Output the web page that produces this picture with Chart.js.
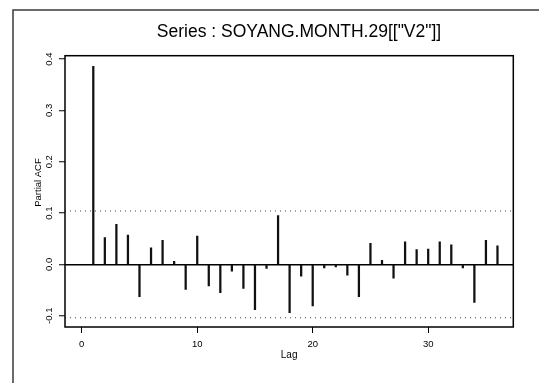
<!DOCTYPE html>
<html>
<head>
<meta charset="utf-8">
<script src="https://cdn.jsdelivr.net/npm/chart.js@4.4.1/dist/chart.umd.min.js"></script>
<style>
  html, body { margin: 0; padding: 0; background: #fff; }
  canvas { display: block; }
</style>
</head>
<body>
<canvas id="pacfChart" width="539" height="383"></canvas>
<script>
// textos
const chartTitle = 'Series : SOYANG.MONTH.29[["V2"]]';
const yTitle = 'Partial ACF';
const xTitle = 'Lag';

// datos
const lags = [1, 2, 3, 4, 5, 6, 7, 8, 9, 10, 11, 12, 13, 14, 15, 16, 17, 18,
              19, 20, 21, 22, 23, 24, 25, 26, 27, 28, 29, 30, 31, 32, 33, 34, 35, 36];
const pacf = [0.386, 0.052, 0.078, 0.057, -0.063, 0.032, 0.047, 0.006, -0.049, 0.055,
              -0.042, -0.055, -0.013, -0.047, -0.088, -0.008, 0.095, -0.094, -0.023, -0.081,
              -0.007, -0.005, -0.021, -0.063, 0.041, 0.008, -0.027, 0.044, 0.029, 0.030,
              0.044, 0.038, -0.007, -0.074, 0.047, 0.036];
const confLimit = 0.104;

// ejes
const xRange = [-1.45, 37.37];
const yRange = [-0.122, 0.4065];
const xTicks = [0, 10, 20, 30];
const yTicks = [-0.1, 0, 0.1, 0.2, 0.3, 0.4];

const fuente = 'Liberation Sans, Arial, Helvetica, sans-serif';

function confLine(v) {
  return {
    type: 'line',
    data: [{ x: xRange[0], y: v }, { x: xRange[1], y: v }],
    borderColor: '#444',
    borderWidth: 1,
    borderDash: [1, 4],
    pointRadius: 0,
    fill: false
  };
}

// marcos y textos sueltos
const marcos = {
  id: 'marcos',
  beforeDraw(chart) {
    const ctx = chart.ctx;
    ctx.save();
    ctx.strokeStyle = '#3a3a3a';
    ctx.lineWidth = 1.5;
    ctx.beginPath();
    ctx.moveTo(13, 383);
    ctx.lineTo(13, 10);
    ctx.lineTo(539, 10);
    ctx.stroke();
    ctx.restore();
  },
  afterDatasetsDraw(chart) {
    const ctx = chart.ctx;
    const a = chart.chartArea;
    ctx.save();
    ctx.strokeStyle = '#000';
    ctx.lineWidth = 1.5;
    ctx.strokeRect(a.left, a.top, a.right - a.left, a.bottom - a.top);

    ctx.fillStyle = '#000';
    ctx.font = '17.5px ' + fuente;
    ctx.textAlign = 'center';
    ctx.textBaseline = 'alphabetic';
    ctx.fillText(chartTitle, 299, 36.7);

    ctx.font = '9.5px ' + fuente;
    ctx.textBaseline = 'middle';
    ctx.translate(38.3, 182.5);
    ctx.rotate(-Math.PI / 2);
    ctx.fillText(yTitle, 0, 0);
    ctx.restore();
  }
};

const ctxPacf = document.getElementById('pacfChart').getContext('2d');

const pacfChart = new Chart(ctxPacf, {
  type: 'bar',
  data: {
    datasets: [
      {
        type: 'bar',
        data: lags.map((l, i) => ({ x: l, y: pacf[i] })),
        backgroundColor: '#111',
        borderWidth: 0,
        barThickness: 1.6
      },
      confLine(confLimit),
      confLine(-confLimit)
    ]
  },
  options: {
    responsive: false,
    animation: false,
    layout: {
      padding: { top: 55.7, right: 25.7, left: 0, bottom: 0 }
    },
    plugins: {
      legend: { display: false },
      tooltip: { enabled: false },
      title: { display: false }
    },
    scales: {
      x: {
        type: 'linear',
        min: xRange[0],
        max: xRange[1],
        offset: false,
        afterBuildTicks: (scale) => { scale.ticks = xTicks.map(v => ({ value: v })); },
        afterFit: (scale) => { scale.height = 56; },
        border: { display: false },
        grid: {
          offset: false,
          drawOnChartArea: false,
          tickColor: '#000',
          tickLength: 6,
          tickWidth: 1
        },
        ticks: {
          autoSkip: false,
          padding: 6,
          color: '#000',
          font: { family: fuente, size: 9.5 },
          callback: (v) => String(v)
        },
        title: {
          display: true,
          text: xTitle,
          color: '#000',
          font: { family: fuente, size: 10, lineHeight: 1.2 },
          padding: { top: 0, bottom: 21.5 }
        }
      },
      y: {
        min: yRange[0],
        max: yRange[1],
        afterBuildTicks: (scale) => { scale.ticks = yTicks.map(v => ({ value: v })); },
        afterFit: (scale) => { scale.width = 65; },
        border: { display: false },
        grid: {
          color: (c) => (c.tick && Math.abs(c.tick.value) < 1e-9) ? '#000' : 'rgba(0,0,0,0)',
          lineWidth: 1.5,
          tickColor: '#000',
          tickLength: 6,
          tickWidth: 1
        },
        ticks: {
          autoSkip: false,
          minRotation: 90,
          maxRotation: 90,
          crossAlign: 'center',
          padding: 1.3,
          color: '#000',
          font: { family: fuente, size: 9.5 },
          callback: (v) => v.toFixed(1)
        }
      }
    }
  },
  plugins: [marcos]
});
</script>
</body>
</html>
